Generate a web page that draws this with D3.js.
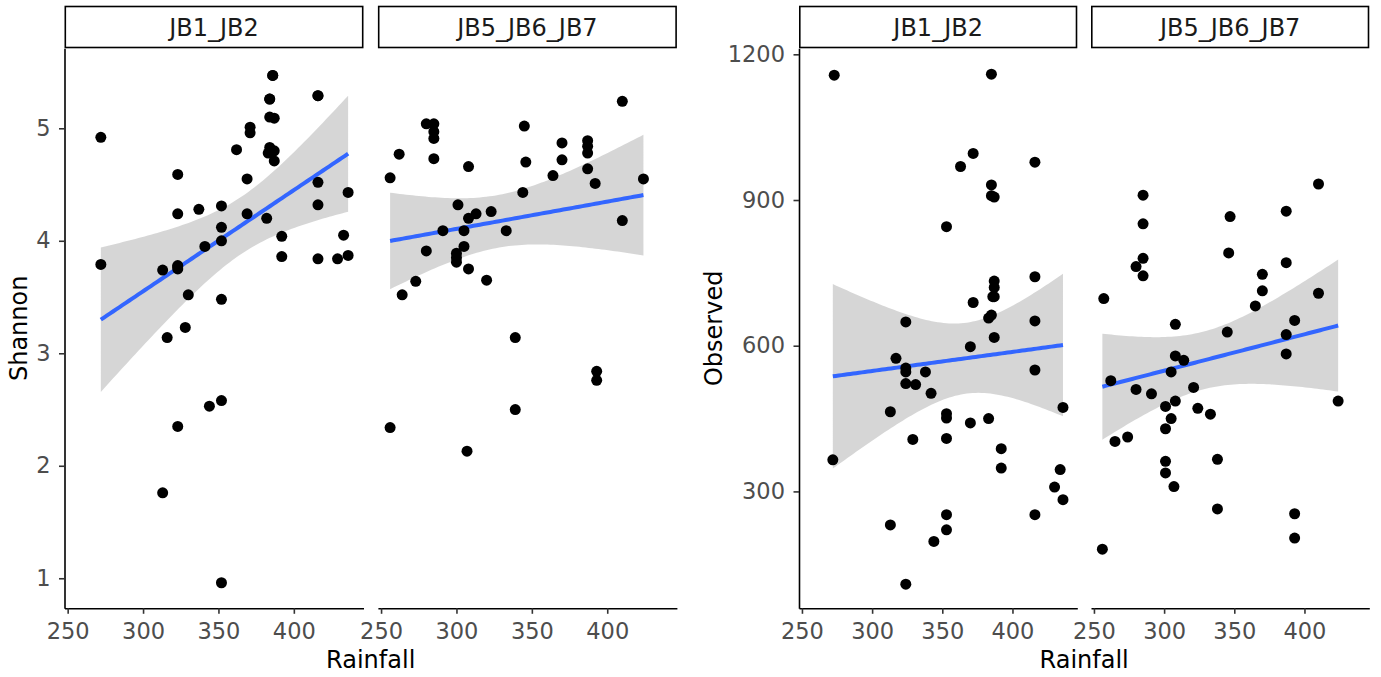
<!DOCTYPE html>
<html>
<head>
<meta charset="utf-8">
<style>
  body { margin: 0; background: #fff; }
  text { font-family: "DejaVu Sans", sans-serif; }
</style>
</head>
<body>
<script src="https://d3js.org/d3.v7.min.js"></script>
<script>
  // facets and axis ticks
  const facets = ['JB1_JB2', 'JB5_JB6_JB7'];
  const rainTicks = [250, 300, 350, 400];
  const shannonTicks = [1, 2, 3, 4, 5];
  const observedTicks = [300, 600, 900, 1200];

  // Shannon, JB1_JB2 (last four sit under other dots)
  const shannonRainA = [272,386,416,384,384,387,371,371,362,384,383,387,387,323,369,416,436,323,337,352,369,416,382,352,392,352,341,433,272,392,416,429,436,313,323,323,330,352,328,316,344,352,323,313,352,384,386,416,323];
  const shannonValA = [4.92,5.47,5.29,5.26,5.10,5.09,5.01,4.96,4.81,4.83,4.78,4.80,4.71,4.59,4.55,4.52,4.43,4.24,4.28,4.31,4.24,4.32,4.20,4.12,4.04,4.00,3.95,4.05,3.79,3.86,3.84,3.84,3.87,3.74,3.78,3.75,3.52,3.48,3.23,3.14,2.53,2.58,2.35,1.76,0.96,5.26,5.47,5.29,3.77];
  // Shannon, JB5_JB6_JB7
  const shannonRainB = [410,280,285,285,285,345,262,285,370,370,387,387,387,387,346,308,256,364,392,424,344,301,308,313,323,410,291,305,333,280,305,300,300,300,308,320,273,264,339,393,393,339,256,307];
  const shannonValB = [5.24,5.04,5.04,4.97,4.91,5.02,4.77,4.73,4.87,4.72,4.89,4.84,4.78,4.64,4.70,4.66,4.56,4.58,4.51,4.55,4.43,4.32,4.20,4.24,4.26,4.18,4.09,4.09,4.09,3.91,3.95,3.89,3.85,3.81,3.75,3.65,3.64,3.52,3.14,2.84,2.76,2.50,2.34,2.13];

  // Observed, JB1_JB2
  const observedRainA = [273,385,372,363,416,385,385,387,353,387,387,386,387,416,372,324,385,383,416,387,370,317,324,324,338,416,324,331,342,313,353,353,370,383,436,329,353,272,392,392,434,430,436,416,353,313,353,344,324];
  const observedValA = [1157,1159,996,969,978,931,909,906,845,733,720,701,701,742,689,649,663,657,651,617,598,574,554,546,546,550,522,520,502,464,460,451,441,450,473,407,409,365,388,348,345,309,283,252,252,231,221,197,109];
  // Observed, JB5_JB6_JB7
  const observedRainB = [410,285,285,347,387,346,387,285,280,285,370,370,257,410,365,308,393,345,387,387,308,314,262,305,280,291,321,301,308,324,333,424,305,301,265,274,301,301,338,307,338,393,393,256];
  const observedValB = [933,910,851,866,877,791,771,780,763,744,747,713,697,708,682,644,652,628,623,583,579,570,528,546,510,501,514,475,486,471,459,486,450,429,403,412,362,338,366,310,264,254,204,181];

  const W = 1381, H = 677;
  const plotTop = 48.3, plotBottom = 608.3;

  const svg = d3.select('body').append('svg')
    .attr('width', W)
    .attr('height', H);

  // student t 97.5% quantile (Cornish-Fisher expansion)
  function tQuantile(df) {
    const z = 1.959964;
    return z + (z ** 3 + z) / (4 * df) + (5 * z ** 5 + 16 * z ** 3 + 3 * z) / (96 * df * df);
  }

  // linear fit with 95% confidence band, like geom_smooth(method = "lm")
  function fitLm(xs, ys) {
    const n = xs.length;
    const mx = d3.mean(xs), my = d3.mean(ys);
    let sxx = 0, sxy = 0;
    xs.forEach((x, i) => { sxx += (x - mx) ** 2; sxy += (x - mx) * (ys[i] - my); });
    const b = sxy / sxx, a = my - b * mx;
    let sse = 0;
    xs.forEach((x, i) => { sse += (ys[i] - a - b * x) ** 2; });
    const s = Math.sqrt(sse / (n - 2));
    const t = tQuantile(n - 2);
    const [lo, hi] = d3.extent(xs);
    return d3.range(80).map(i => {
      const x = lo + (hi - lo) * i / 79;
      const fit = a + b * x;
      const se = s * Math.sqrt(1 / n + (x - mx) ** 2 / sxx);
      return { x, fit, lo: fit - t * se, hi: fit + t * se };
    });
  }

  function styleAxis(ax) {
    ax.select('.domain').attr('stroke', '#000').attr('stroke-width', 1.6);
    ax.selectAll('.tick line').attr('stroke', '#333').attr('stroke-width', 1.6);
    ax.selectAll('.tick text')
      .attr('font-family', '"DejaVu Sans", sans-serif')
      .attr('font-size', 22.5).attr('fill', '#4d4d4d');
  }

  function drawChart(opts) {
    const g = svg.append('g');
    const y = d3.scaleLinear().domain(opts.yDomain).range([plotBottom, plotTop]);

    opts.series.forEach((s, k) => {
      const x0 = opts.left + k * (opts.panelW + opts.gap);
      const x = d3.scaleLinear().domain([247.9, 446.2]).range([x0, x0 + opts.panelW]);
      const p = g.append('g');

      // strip
      p.append('rect')
        .attr('x', x0 + 0.8).attr('y', 6.5)
        .attr('width', opts.panelW - 1.6).attr('height', plotTop - 7.3)
        .attr('fill', '#fff').attr('stroke', '#000').attr('stroke-width', 1.6);
      p.append('text')
        .attr('x', x0 + opts.panelW / 2).attr('y', 36)
        .attr('text-anchor', 'middle')
        .attr('font-size', 24).attr('fill', '#1a1a1a')
        .text(facets[k]);

      // smooth
      const band = fitLm(s.rain, s.val);
      p.append('path')
        .datum(band)
        .attr('fill', '#999999').attr('fill-opacity', 0.4)
        .attr('d', d3.area().x(d => x(d.x)).y0(d => y(d.lo)).y1(d => y(d.hi)));
      p.append('path')
        .datum(band)
        .attr('fill', 'none').attr('stroke', '#3366FF').attr('stroke-width', 4)
        .attr('d', d3.line().x(d => x(d.x)).y(d => y(d.fit)));

      // points
      p.append('g')
        .selectAll('circle')
        .data(s.rain.map((r, i) => [r, s.val[i]]))
        .join('circle')
        .attr('cx', d => x(d[0]))
        .attr('cy', d => y(d[1]))
        .attr('r', 5.5)
        .attr('fill', '#000');

      // x axis
      const xa = p.append('g')
        .attr('transform', `translate(0,${plotBottom})`)
        .call(d3.axisBottom(x).tickValues(rainTicks).tickFormat(d3.format('d'))
          .tickSize(5.5).tickPadding(9).tickSizeOuter(0));
      styleAxis(xa);

      if (k === 0) {
        const ya = p.append('g')
          .attr('transform', `translate(${x0},0)`)
          .call(d3.axisLeft(y).tickValues(opts.yTicks).tickFormat(d3.format('d'))
            .tickSize(5.5).tickPadding(8.5).tickSizeOuter(0));
        styleAxis(ya);
      }
    });

    const x1 = opts.left + 2 * opts.panelW + opts.gap;
    g.append('text')
      .attr('x', (opts.left + x1) / 2).attr('y', 668)
      .attr('text-anchor', 'middle')
      .attr('font-size', 24).attr('fill', '#000')
      .text('Rainfall');
    g.append('text')
      .attr('transform', `translate(${opts.titleX},${(plotTop + plotBottom) / 2}) rotate(-90)`)
      .attr('text-anchor', 'middle')
      .attr('font-size', 24).attr('fill', '#000')
      .text(opts.yTitle);
  }

  drawChart({
    left: 64.5, panelW: 299, gap: 14.4,
    yDomain: [0.733, 5.711], yTicks: shannonTicks,
    yTitle: 'Shannon', titleX: 27,
    series: [{ rain: shannonRainA, val: shannonValA }, { rain: shannonRainB, val: shannonValB }]
  });

  drawChart({
    left: 799, panelW: 278.3, gap: 13.7,
    yDomain: [59.3, 1212.4], yTicks: observedTicks,
    yTitle: 'Observed', titleX: 721.5,
    series: [{ rain: observedRainA, val: observedValA }, { rain: observedRainB, val: observedValB }]
  });
</script>
</body>
</html>
